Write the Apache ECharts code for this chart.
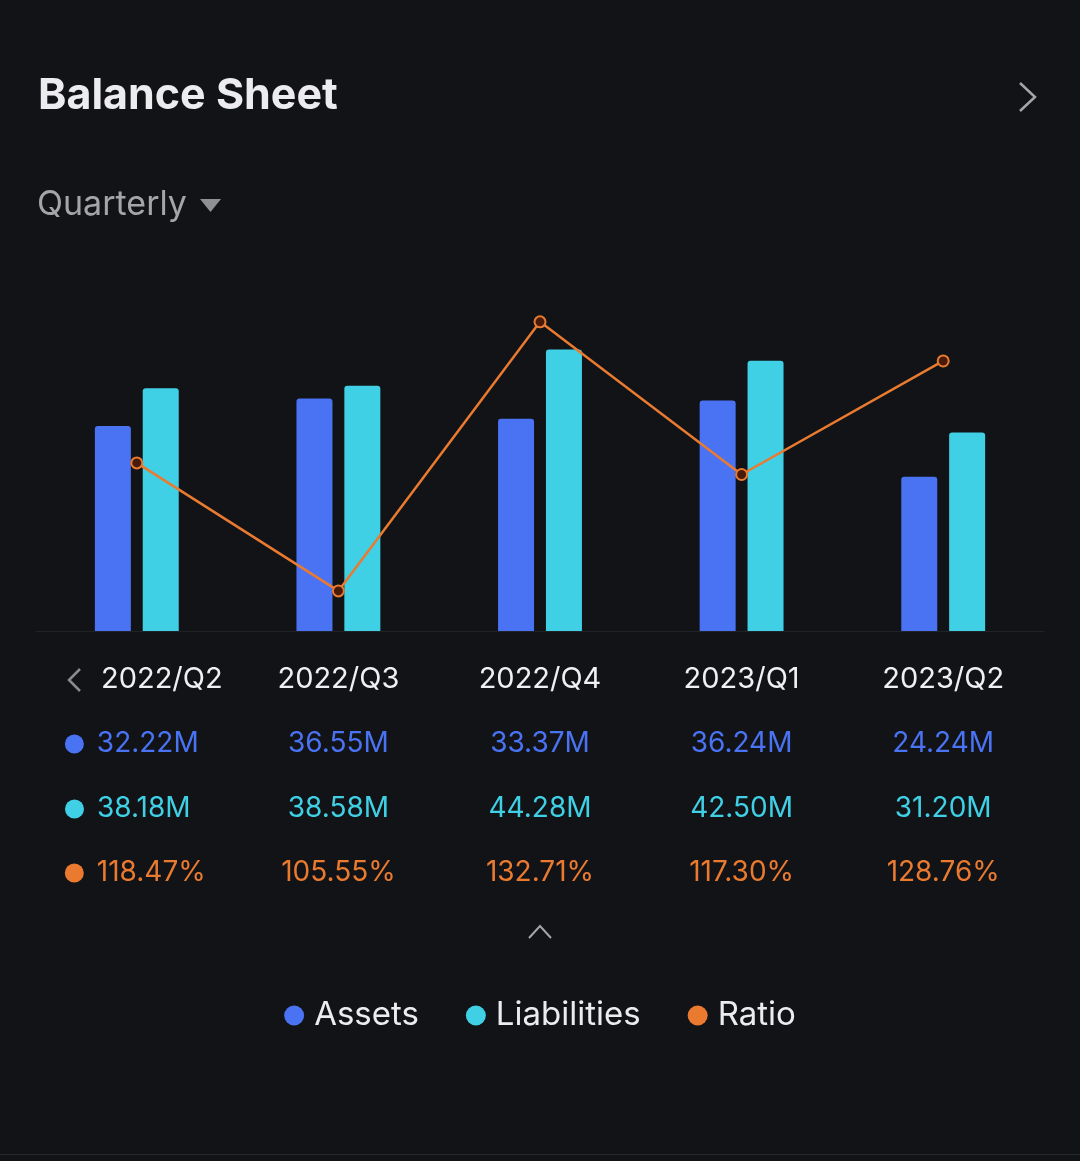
<!DOCTYPE html>
<html>
<head>
<meta charset="utf-8">
<script src="https://cdn.jsdelivr.net/npm/echarts@6/dist/echarts.min.js"></script>
<style>
  html, body { margin: 0; padding: 0; background: #111316; }
  #balance-sheet { width: 1080px; height: 1161px; }
</style>
</head>
<body>
<div id="balance-sheet"></div>
<script>
// values
var categories = ['2022/Q2', '2022/Q3', '2022/Q4', '2023/Q1', '2023/Q2'];
var assets = [32.22, 36.55, 33.37, 36.24, 24.24];
var liabilities = [38.18, 38.58, 44.28, 42.50, 31.20];
var ratio = [118.47, 105.55, 132.71, 117.30, 128.76];

var blue = '#4a73f4';
var cyan = '#40d0e6';
var orange = '#e97a30';
var font = 'Inter';

// text width, used to keep the first column left aligned
var measureCtx = document.createElement('canvas').getContext('2d');
function textWidth(txt, size) {
    measureCtx.font = size + 'px ' + font;
    return measureCtx.measureText(txt).width;
}

function balanceSheetChart() {
    var chart = echarts.init(document.getElementById('balance-sheet'));

    // one hidden category axis per table row, so the texts line up with the bars
    function rowAxis(offset, values, color, suffix) {
        return {
            type: 'category',
            data: categories,
            position: 'bottom',
            offset: offset,
            axisLine: { show: false },
            axisTick: { show: false },
            axisLabel: {
                interval: 0,
                margin: 34,
                formatter: function (value, index) {
                    var txt = values[index].toFixed(2) + suffix;
                    if (index === 0) {
                        var pad = Math.max(1, Math.round(112 - textWidth(txt, 28)));
                        return '{dot| }{gap| }{v|' + txt + '}{p' + pad + '| }';
                    }
                    return '{v|' + txt + '}';
                },
                rich: (function () {
                    var r = {
                        dot: { width: 19, height: 19, borderRadius: 10, backgroundColor: color, verticalAlign: 'middle' },
                        gap: { width: 13 },
                        v: { color: color, fontSize: 28, fontFamily: font, lineHeight: 28, verticalAlign: 'middle' }
                    };
                    for (var i = 1; i <= 40; i++) r['p' + i] = { width: i };
                    return r;
                })()
            }
        };
    }

    var option = {
        backgroundColor: '#111316',
        animation: false,
        title: [
            {
                text: 'Balance Sheet',
                left: 38,
                top: 74,
                padding: 0,
                textStyle: { color: '#ececee', fontSize: 43, fontWeight: 'bold', fontFamily: font, lineHeight: 44 }
            },
            {
                text: 'Quarterly',
                left: 37,
                top: 188,
                padding: 0,
                textStyle: { color: '#a3a5a9', fontSize: 34, fontWeight: 'normal', fontFamily: font, lineHeight: 34 }
            }
        ],
        legend: {
            data: [
                { name: 'Assets', itemStyle: { color: blue } },
                { name: 'Liabilities', itemStyle: { color: cyan } },
                { name: 'Ratio', itemStyle: { color: orange, borderWidth: 0 } }
            ],
            icon: 'circle',
            itemWidth: 20,
            itemHeight: 20,
            itemGap: 47,
            left: 'center',
            top: 994,
            textStyle: { color: '#ececee', fontSize: 33, fontFamily: font, padding: [0, 0, 0, 5] }
        },
        grid: { left: 36, right: 36, top: 313, bottom: 530 },
        xAxis: [
            {
                type: 'category',
                data: categories,
                axisLine: { show: true, lineStyle: { color: '#202327', width: 1 } },
                axisTick: { show: false },
                axisLabel: {
                    interval: 0,
                    margin: 34,
                    formatter: function (value, index) {
                        return index === 0 ? '{sp| }{c|' + value + '}' : '{c|' + value + '}';
                    },
                    rich: {
                        sp: { width: 50 },
                        c: { color: '#f0f0f2', fontSize: 29, fontFamily: font, lineHeight: 28 }
                    }
                }
            },
            rowAxis(65, assets, blue, 'M'),
            rowAxis(130, liabilities, cyan, 'M'),
            rowAxis(194, ratio, orange, '%')
        ],
        yAxis: [
            { type: 'value', min: 0, max: 50, show: false, splitLine: { show: false } },
            { type: 'value', min: 101.5, max: 133.6, show: false, splitLine: { show: false } }
        ],
        series: [
            {
                name: 'Assets',
                type: 'bar',
                data: assets,
                barWidth: 36,
                barGap: '33%',
                itemStyle: { color: blue, borderRadius: [3, 3, 0, 0] },
                emphasis: { disabled: true }
            },
            {
                name: 'Liabilities',
                type: 'bar',
                data: liabilities,
                barWidth: 36,
                itemStyle: { color: cyan, borderRadius: [3, 3, 0, 0] },
                emphasis: { disabled: true }
            },
            {
                name: 'Ratio',
                type: 'line',
                yAxisIndex: 1,
                data: ratio,
                symbol: 'circle',
                symbolSize: 11,
                lineStyle: { color: orange, width: 2.5 },
                itemStyle: { color: '#4a1a08', borderColor: orange, borderWidth: 2 },
                emphasis: { disabled: true },
                z: 5
            }
        ],
        graphic: [
            // dropdown triangle after "Quarterly"
            { type: 'polygon', shape: { points: [[200, 199], [221, 199], [210.5, 212]] }, style: { fill: '#8e9094' } },
            // ">" top right
            { type: 'polyline', shape: { points: [[1020, 83], [1035, 97], [1020, 111]] }, style: { stroke: '#a3a5a9', lineWidth: 2.5, fill: null } },
            // "<" in front of the first quarter
            { type: 'polyline', shape: { points: [[80, 669], [69, 680], [80, 691]] }, style: { stroke: '#8a8c90', lineWidth: 2.5, fill: null } },
            // "^" collapse button
            { type: 'polyline', shape: { points: [[529, 938], [540, 926], [551, 938]] }, style: { stroke: '#a3a5a9', lineWidth: 2, fill: null } },
            // bottom divider
            { type: 'line', shape: { x1: 0, y1: 1154.5, x2: 1080, y2: 1154.5 }, style: { stroke: '#25272b', lineWidth: 1 } }
        ]
    };

    option && chart.setOption(option);
}

balanceSheetChart();
</script>
</body>
</html>
